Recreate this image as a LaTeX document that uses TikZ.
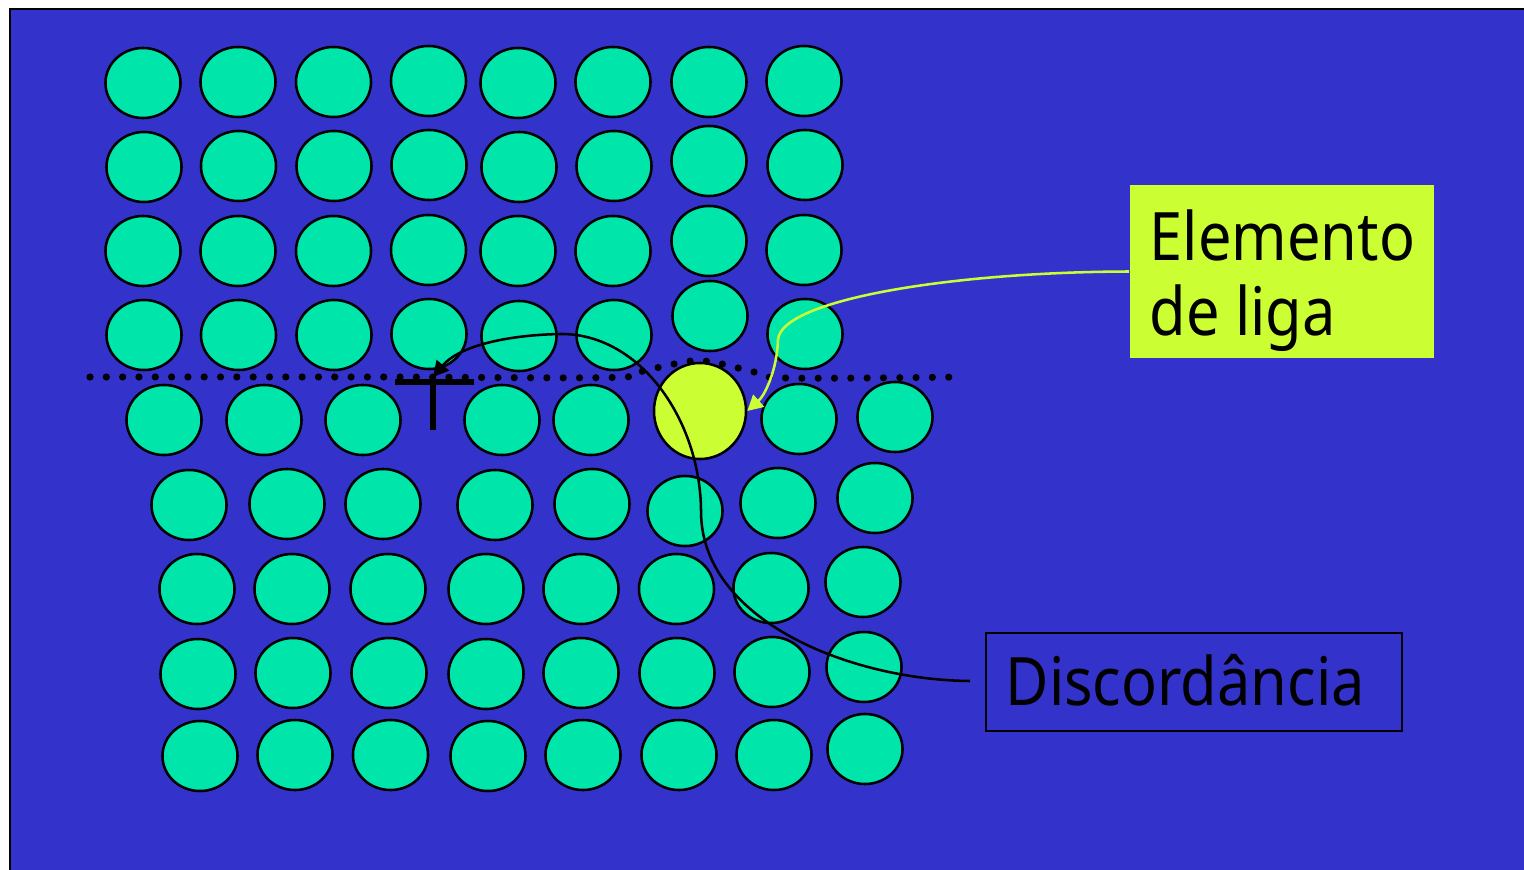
\documentclass[tikz,border=0pt]{standalone}
\usepackage{fontspec}
\setmainfont[FakeStretch=.89]{Noto Sans}
\usetikzlibrary{arrows.meta}
\usetikzlibrary{shapes.geometric}
\definecolor{fundo}{RGB}{51,51,204}
\definecolor{atomo}{RGB}{0,229,170}
\definecolor{liga}{RGB}{204,255,51}
\tikzset{
 atom/.style={ellipse, draw=black, fill=atomo, line width=.72pt, inner sep=0, minimum width=.75cm, minimum height=.70cm},
 soluto/.style={ellipse, draw=black, fill=liga, line width=.72pt, inner sep=0, minimum width=.92cm, minimum height=.96cm},
 rotulo/.style={font=\fontsize{19}{21.3}\selectfont, align=left, anchor=north west, inner sep=0},
 ponta/.style={-{Triangle[length=4.4pt, width=4.6pt]}}
}
\begin{document}
\begin{tikzpicture}[x=.01cm, y=-.01cm]
\useasboundingbox (0,0) rectangle (1524,870);
\draw[black, fill=fundo, line width=.72pt] (10,9) rectangle (1530,880);
% upper half of the lattice
\foreach \x/\y [count=\i] in {143/83,238/82,333.5/82,428.5/81,518/83,613/82,709/82,804/81,
 144/167,238.5/166,334/166,429/165,519/167,614/166,709/161,805/165,
 143/251,238/251,333.5/251,428.5/250,518/251,613/251,709/241,804/250,
 144/335,238.5/335,334/335,429/334,519/336,614/335,710/316,805/334} {
 \node[atom] (u\i) at (\x,\y) {};
}
% lower half, one plane short
\foreach \x/\y [count=\i] in {164/420,264/420,363/420,502/420,591/420,799/419,895/417,
 189/505,287/504,383/504,495/505,592/504,685/511,778/503,875/498,
 197/589,292/589,388/589,486/589,581/589,676.5/589,771/588,863/582,
 198/674,293/673,389/673,486/674,581/673,677/673,772/672,864/667,
 200/756,295/755,390.5/755,488/756,583/755,679/755,774/755,865/749} {
 \node[atom] (l\i) at (\x,\y) {};
}
\node[soluto] (elem) at (700,411) {};
% slip plane
\draw[black, line width=2.05pt, line cap=round, dash pattern=on 0pt off 4.64pt]
 plot[smooth, tension=.6] coordinates {(90,377) (380,377) (611,377.5) (643,371) (674,364) (698,360.5) (722,364) (754,372) (786,378) (960,377)};
% edge dislocation sign
\coordinate (tee) at (433,377);
\coordinate (cauda) at (970,681);
\draw[black, line width=1.5pt] (395,382) --++(79,0);
\draw[black, line width=1.5pt] (433,382) --++(0,48);
% labels
\node[fill=liga, minimum width=3.04cm, minimum height=1.73cm, inner sep=0] (caixaliga) at (1282,271.5) {};
\node[rotulo] (txtliga) at (1149,209) {Elemento\\de liga};
\node[draw=black, line width=.5pt, minimum width=4.16cm, minimum height=.98cm, inner sep=0] (caixadisc) at (1194,682) {};
\node[rotulo, text=black] (txtdisc) at (1005,654) {Discordância};
% leaders
\draw[black, line width=.72pt, ponta] (cauda) .. controls (850,680) and (700,620) .. (701,510)
 .. controls (700,420) and (640,333) .. (560,334) .. controls (510,335) and (460,345) .. (tee);
\draw[liga, line width=.72pt, ponta] (caixaliga.west) .. controls (950,272) and (780,300) .. (778,340)
 .. controls (777,370) and (765,395) .. (elem.east);
\end{tikzpicture}
\end{document}
